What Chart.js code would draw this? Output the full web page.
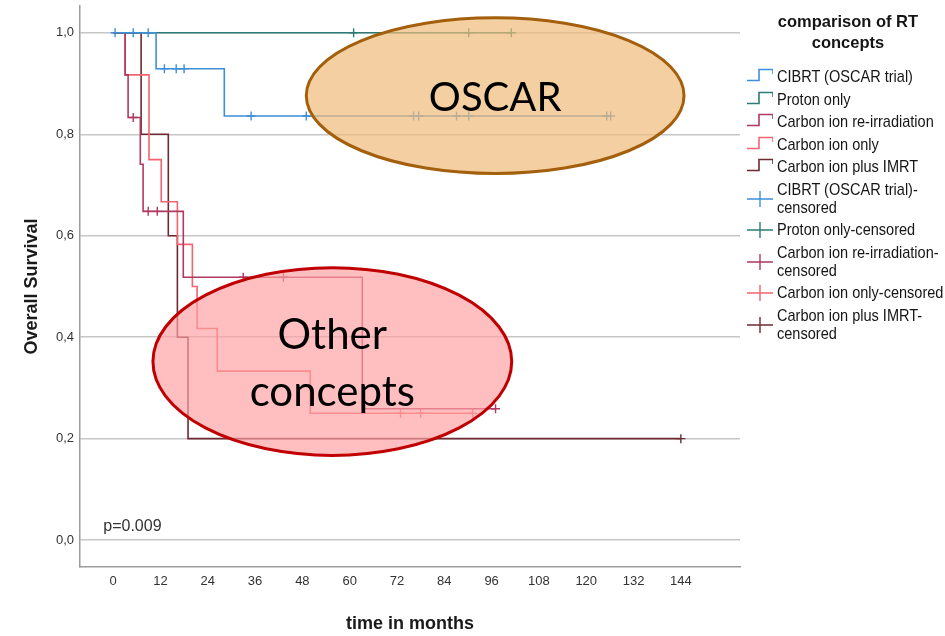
<!DOCTYPE html>
<html>
<head>
<meta charset="utf-8">
<title>comparison of RT concepts</title>
<script src="https://cdn.jsdelivr.net/npm/chart.js@4.4.1/dist/chart.umd.min.js"></script>
<style>
  html, body { margin: 0; padding: 0; background: #fff; }
  #wrap { position: relative; width: 945px; height: 636px; overflow: hidden; }
  #legend { position: absolute; left: 747px; top: 0; width: 198px; font-family: 'Liberation Sans', Arial, sans-serif; color: #151515; }
  #lgTitle { position: absolute; left: 3px; top: 11px; width: 196px; text-align: center; font-weight: bold; font-size: 16.5px; line-height: 21px; }
  #lgRows { position: absolute; left: 0; top: 68px; width: 200px; }
  .lg-row { display: flex; align-items: center; margin-bottom: 4.5px; white-space: nowrap; }
  .lg-row svg { flex: none; width: 26px; height: 18px; margin-right: 4px; }
  .lg-text { display: inline-block; font-size: 17px; line-height: 18px; transform: scaleX(0.855); transform-origin: left center; }
</style>
</head>
<body>
<div id="wrap">
  <canvas id="kmChart" width="945" height="636"></canvas>
  <div id="legend">
    <div id="lgTitle">comparison of RT<br>concepts</div>
    <div id="lgRows"></div>
  </div>
</div>
<script>
// series names and colours
var seriesNames = ["CIBRT (OSCAR trial)", "Proton only", "Carbon ion re-irradiation", "Carbon ion only", "Carbon ion plus IMRT"];
var seriesColors = ["#3e8fd9", "#2e7b73", "#b0395f", "#f2646f", "#6e2a33"];
var censoredLabels = [["CIBRT (OSCAR trial)-", "censored"], ["Proton only-censored"], ["Carbon ion re-irradiation-", "censored"], ["Carbon ion only-censored"], ["Carbon ion plus IMRT-", "censored"]];

// Kaplan-Meier steps (months, survival)
var cibrtMonths = [0, 10.9, 28.2, 126.2];
var cibrtSurvival = [1.0, 0.929, 0.836, 0.836];
var protonMonths = [0, 101];
var protonSurvival = [1.0, 1.0];
var reirrMonths = [0, 3.05, 3.8, 6.9, 7.6, 17.8, 63.2, 97];
var reirrSurvival = [1.0, 0.917, 0.833, 0.741, 0.648, 0.518, 0.259, 0.259];
var carbonMonths = [0, 3.05, 9.1, 12.2, 16.3, 20.1, 21.3, 26.4, 50, 91.2];
var carbonSurvival = [1.0, 0.917, 0.75, 0.667, 0.583, 0.5, 0.417, 0.333, 0.25, 0.25];
var imrtMonths = [0, 7.1, 14, 16.3, 19, 144];
var imrtSurvival = [1.0, 0.8, 0.6, 0.4, 0.2, 0.2];

// censored patients
var cibrtCensMonths = [0.5, 5.1, 8.9, 13, 16, 18, 35, 49, 76.2, 77.5, 87.1, 90.2, 125.2, 126.2];
var cibrtCensSurvival = [1.0, 1.0, 1.0, 0.929, 0.929, 0.929, 0.836, 0.836, 0.836, 0.836, 0.836, 0.836, 0.836, 0.836];
var protonCensMonths = [61, 90.2, 101];
var protonCensSurvival = [1.0, 1.0, 1.0];
var reirrCensMonths = [5.1, 8.9, 11.2, 33, 43.2, 97];
var reirrCensSurvival = [0.833, 0.648, 0.648, 0.518, 0.518, 0.259];
var carbonCensMonths = [72.9, 78, 91.2];
var carbonCensSurvival = [0.25, 0.25, 0.25];
var imrtCensMonths = [144];
var imrtCensSurvival = [0.2];

// axis ticks
var xTickValues = [0, 12, 24, 36, 48, 60, 72, 84, 96, 108, 120, 132, 144];
var yTickValues = [0, 0.2, 0.4, 0.6, 0.8, 1.0];

function toPoints(xs, ys) {
  return xs.map(function(x, i) { return {x: x, y: ys[i]}; });
}

var stepSets = [[cibrtMonths, cibrtSurvival], [protonMonths, protonSurvival], [reirrMonths, reirrSurvival], [carbonMonths, carbonSurvival], [imrtMonths, imrtSurvival]];
var censSets = [[cibrtCensMonths, cibrtCensSurvival], [protonCensMonths, protonCensSurvival], [reirrCensMonths, reirrCensSurvival], [carbonCensMonths, carbonCensSurvival], [imrtCensMonths, imrtCensSurvival]];

var datasets = [];
for (var i = 0; i < seriesNames.length; i++) {
  datasets.push({
    label: seriesNames[i],
    data: toPoints(stepSets[i][0], stepSets[i][1]),
    borderColor: seriesColors[i],
    borderWidth: 1.6,
    pointRadius: 0,
    showLine: true,
    stepped: 'before',
    fill: false
  });
}
for (var j = 0; j < seriesNames.length; j++) {
  datasets.push({
    label: censoredLabels[j].join(''),
    data: toPoints(censSets[j][0], censSets[j][1]),
    borderColor: seriesColors[j],
    backgroundColor: seriesColors[j],
    borderWidth: 1.4,
    pointStyle: 'cross',
    pointRadius: 4.5,
    showLine: false
  });
}

// highlighted regions, in data units
var notes = [
  {cx: 96.9, cy: 0.876, rx: 47.9, ry: 0.1535, fill: 'rgba(238,186,122,0.7)', stroke: '#a35f0c', lines: ['OSCAR'], baselines: [0.845], size: 40},
  {cx: 55.6, cy: 0.352, rx: 45.5, ry: 0.185, fill: 'rgba(255,160,162,0.68)', stroke: '#c00000', lines: ['Other', 'concepts'], baselines: [0.376, 0.264], size: 42}
];

var notesPlugin = {
  id: 'notes',
  afterDatasetsDraw: function(chart) {
    var c = chart.ctx;
    var xs = chart.scales.x;
    var ys = chart.scales.y;
    notes.forEach(function(n) {
      var px = xs.getPixelForValue(n.cx);
      var py = ys.getPixelForValue(n.cy);
      var rx = xs.getPixelForValue(n.cx + n.rx) - px;
      var ry = py - ys.getPixelForValue(n.cy + n.ry);
      c.save();
      c.beginPath();
      c.ellipse(px, py, rx, ry, 0, 0, Math.PI * 2);
      c.fillStyle = n.fill;
      c.fill();
      c.lineWidth = 3;
      c.strokeStyle = n.stroke;
      c.stroke();
      c.fillStyle = '#000';
      c.font = n.size + "px Lato, 'Open Sans', sans-serif";
      c.textAlign = 'center';
      c.textBaseline = 'alphabetic';
      n.lines.forEach(function(t, k) {
        c.fillText(t, px, ys.getPixelForValue(n.baselines[k]));
      });
      c.restore();
    });
    // p value
    c.save();
    c.fillStyle = '#333';
    c.font = "16px 'Liberation Sans', Arial, sans-serif";
    c.textAlign = 'left';
    c.fillText('p=0.009', xs.getPixelForValue(-2.5), ys.getPixelForValue(0.018));
    c.restore();
  }
};

Chart.defaults.font.family = "'Liberation Sans', Arial, sans-serif";
Chart.defaults.color = '#333';

var config = {
  type: 'scatter',
  data: { datasets: datasets },
  options: {
    responsive: false,
    animation: false,
    layout: { padding: { left: 0, top: 5, right: 205, bottom: 0 } },
    plugins: {
      legend: { display: false },
      tooltip: { enabled: false }
    },
    scales: {
      x: {
        type: 'linear',
        min: -8.4,
        max: 159,
        afterBuildTicks: function(scale) {
          scale.ticks = xTickValues.map(function(v) { return {value: v}; });
        },
        afterFit: function(scale) {
          scale.height = 69;
          scale.paddingLeft = 0;
          scale.paddingRight = 0;
        },
        grid: { color: 'rgba(0,0,0,0)', drawTicks: false },
        border: { color: '#9c9c9c', width: 1.5 },
        ticks: { padding: 7, autoSkip: false, maxRotation: 0, font: { size: 13 }, color: '#333' },
        title: { display: true, text: 'time in months', color: '#1a1a1a', font: { size: 18, weight: 'bold' }, padding: { top: 0, bottom: 1 } }
      },
      y: {
        min: -0.053,
        max: 1.053,
        afterBuildTicks: function(scale) {
          scale.ticks = yTickValues.map(function(v) { return {value: v}; });
        },
        afterFit: function(scale) {
          scale.width = 80;
          scale.paddingTop = 0;
          scale.paddingBottom = 0;
        },
        grid: { color: '#c6c6c6', lineWidth: 1.5, drawTicks: false },
        border: { color: '#9c9c9c', width: 1.5 },
        ticks: {
          padding: 6,
          font: { size: 13 },
          color: '#333',
          callback: function(v) { return v.toFixed(1).replace('.', ','); }
        },
        title: { display: true, text: 'Overall Survival', color: '#1a1a1a', font: { size: 18, weight: 'bold' }, padding: { top: 21, bottom: 0 } }
      }
    }
  },
  plugins: [notesPlugin]
};

var ctx = document.getElementById("kmChart");
var charts = new Chart(ctx, config);

// legend on the right
function stepIcon(color) {
  return '<svg viewBox="0 0 26 18"><path d="M0 12.5 H12 V1.5 H26 V6" fill="none" stroke="' + color + '" stroke-width="1.6"/></svg>';
}
function crossIcon(color) {
  return '<svg viewBox="0 0 26 18"><path d="M0 9 H26 M13 1 V17" fill="none" stroke="' + color + '" stroke-width="1.4"/></svg>';
}
var rows = '';
for (var a = 0; a < seriesNames.length; a++) {
  rows += '<div class="lg-row">' + stepIcon(seriesColors[a]) + '<span class="lg-text">' + seriesNames[a] + '</span></div>';
}
for (var b = 0; b < seriesNames.length; b++) {
  rows += '<div class="lg-row">' + crossIcon(seriesColors[b]) + '<span class="lg-text">' + censoredLabels[b].join('<br>') + '</span></div>';
}
document.getElementById("lgRows").innerHTML = rows;
</script>
</body>
</html>
